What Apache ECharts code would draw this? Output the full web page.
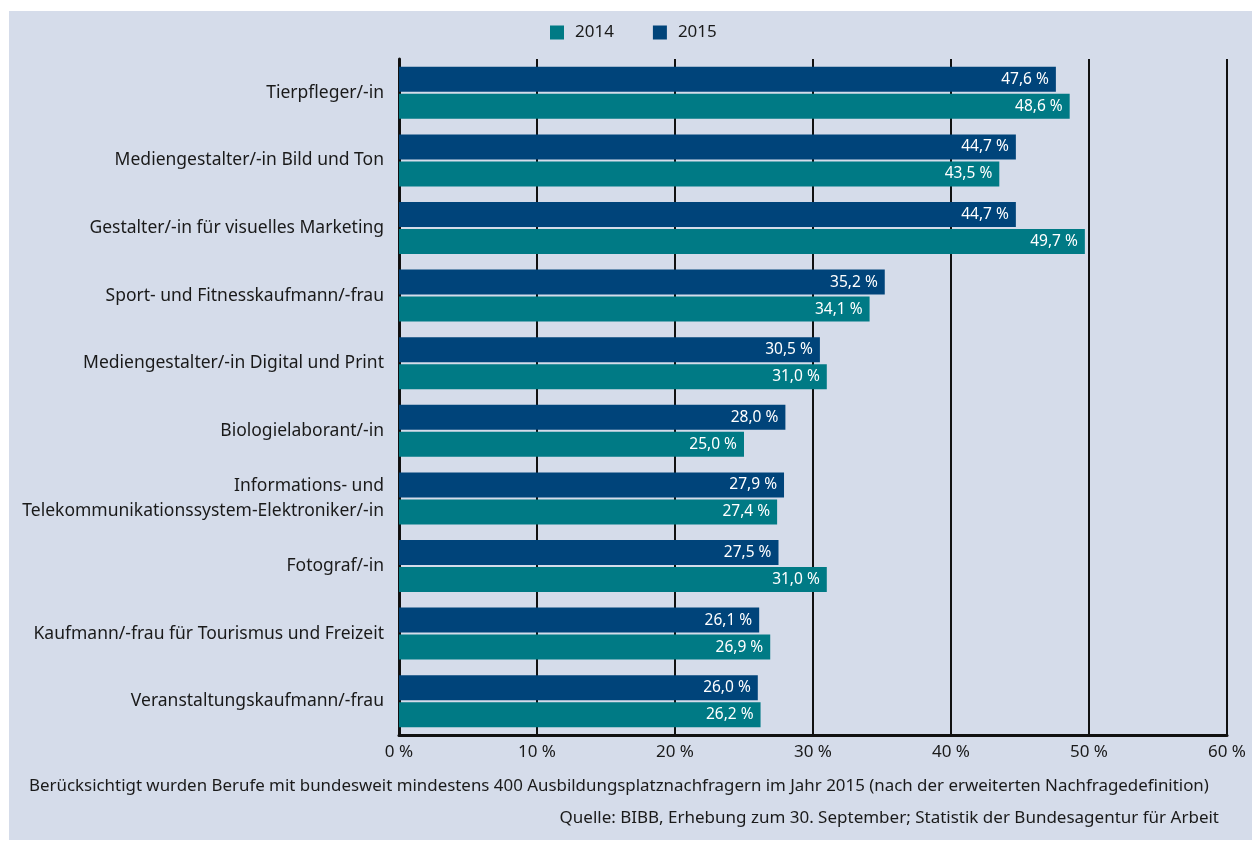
<!DOCTYPE html>
<html>
<head>
<meta charset="utf-8">
<script src="https://cdn.jsdelivr.net/npm/echarts@6/dist/echarts.min.js"></script>
<style>
  html, body { margin: 0; padding: 0; background: #ffffff; }
  #panel { position: absolute; left: 9px; top: 11px; width: 1243px; height: 829px; background: #d5dcea; }
  #chart { position: absolute; left: 0; top: 0; width: 1252px; height: 841px; }
</style>
</head>
<body>
<div id="panel"></div>
<div id="chart"></div>
<script>
// Occupations (top to bottom)
const categories = [
  'Tierpfleger/-in',
  'Mediengestalter/-in Bild und Ton',
  'Gestalter/-in für visuelles Marketing',
  'Sport- und Fitnesskaufmann/-frau',
  'Mediengestalter/-in Digital und Print',
  'Biologielaborant/-in',
  'Informations- und\nTelekommunikationssystem-Elektroniker/-in',
  'Fotograf/-in',
  'Kaufmann/-frau für Tourismus und Freizeit',
  'Veranstaltungskaufmann/-frau'
];
// Share in percent
const values2015 = [47.6, 44.7, 44.7, 35.2, 30.5, 28.0, 27.9, 27.5, 26.1, 26.0];
const values2014 = [48.6, 43.5, 49.7, 34.1, 31.0, 25.0, 27.4, 31.0, 26.9, 26.2];
const axisTicks = [0, 10, 20, 30, 40, 50, 60];

const noteText = 'Berücksichtigt wurden Berufe mit bundesweit mindestens 400 Ausbildungsplatznachfragern im Jahr 2015 (nach der erweiterten Nachfragedefinition)';
const sourceText = 'Quelle: BIBB, Erhebung zum 30. September; Statistik der Bundesagentur für Arbeit';

const FONT = 'Noto Sans';
const fmt = v => v.toFixed(1).replace('.', ',') + ' %';

const chart = echarts.init(document.getElementById('chart'), null, { renderer: 'canvas' });

const valueLabel = {
  show: true,
  position: 'insideRight',
  distance: 7,
  color: '#ffffff',
  fontFamily: FONT,
  fontSize: 15.5,
  formatter: p => fmt(p.value)
};

chart.setOption({
  backgroundColor: 'transparent',
  animation: false,
  textStyle: { fontFamily: FONT },
  legend: {
    data: ['2014', '2015'],
    top: 19,
    left: 545,
    itemWidth: 14,
    itemHeight: 14,
    itemGap: 39,
    icon: 'rect',
    textStyle: { fontFamily: FONT, fontSize: 17, color: '#1a1a1a', padding: [0, 0, 0, 6] }
  },
  grid: { left: 399, right: 25, top: 59, bottom: 106, containLabel: false },
  xAxis: {
    type: 'value',
    min: axisTicks[0],
    max: axisTicks[axisTicks.length - 1],
    interval: 10,
    axisLine: { show: true, lineStyle: { color: '#111111', width: 3 } },
    axisTick: { show: false },
    splitLine: { show: true, lineStyle: { color: '#111111', width: 2 } },
    axisLabel: {
      margin: 9,
      color: '#1a1a1a',
      fontFamily: FONT,
      fontSize: 17,
      formatter: v => v + ' %'
    }
  },
  yAxis: {
    type: 'category',
    data: categories,
    inverse: true,
    axisLine: { show: true, lineStyle: { color: '#111111', width: 3 } },
    axisTick: { show: false },
    axisLabel: {
      margin: 15,
      color: '#1a1a1a',
      fontFamily: FONT,
      fontSize: 17.5,
      lineHeight: 25,
      align: 'right'
    }
  },
  series: [
    {
      name: '2015',
      type: 'bar',
      data: values2015,
      barWidth: 25,
      barGap: '8%',
      itemStyle: { color: '#00447a' },
      label: valueLabel
    },
    {
      name: '2014',
      type: 'bar',
      data: values2014,
      barWidth: 25,
      barGap: '8%',
      itemStyle: { color: '#007a85' },
      label: valueLabel
    }
  ],
  graphic: [
    {
      type: 'text',
      left: 29,
      top: 778,
      style: { text: noteText, fontFamily: FONT, fontSize: 16.9, fill: '#1a1a1a' }
    },
    {
      type: 'text',
      right: 33,
      top: 810,
      style: { text: sourceText, fontFamily: FONT, fontSize: 17, fill: '#1a1a1a' }
    }
  ]
});
</script>
</body>
</html>
